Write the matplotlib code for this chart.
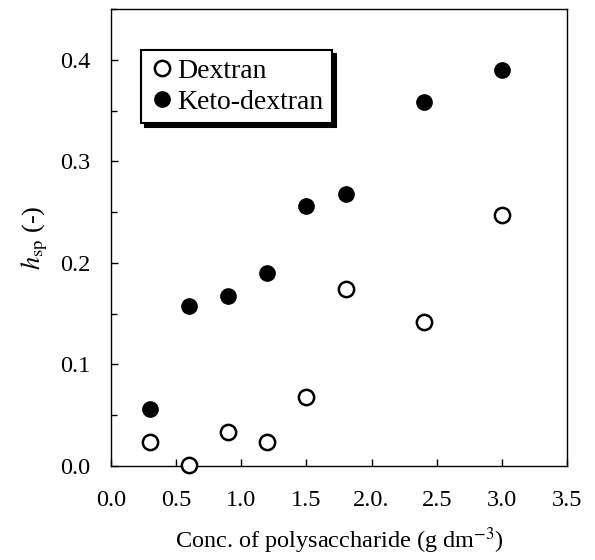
import matplotlib
matplotlib.use("Agg")
import matplotlib.pyplot as plt
from matplotlib.ticker import MultipleLocator

conc = [0.3, 0.6, 0.9, 1.2, 1.5, 1.8, 2.4, 3.0]
dextran = [0.024, 0.001, 0.033, 0.024, 0.068, 0.174, 0.142, 0.247]
keto_dextran = [0.056, 0.157, 0.167, 0.190, 0.256, 0.268, 0.358, 0.390]
xtick_vals = [0.0, 0.5, 1.0, 1.5, 2.0, 2.5, 3.0, 3.5]
xtick_labels = ["0.0", "0.5", "1.0", "1.5", "2.0.", "2.5", "3.0", "3.5"]
ytick_vals = [0.0, 0.1, 0.2, 0.3, 0.4]
ytick_labels = ["0.0", "0.1", "0.2", "0.3", "0.4"]

plt.rcParams['font.family'] = ['Liberation Serif', 'DejaVu Serif']
plt.rcParams['mathtext.fontset'] = 'stix'

fig = plt.figure(figsize=(5.95, 5.6), dpi=100)
ax = fig.add_axes([0.1866, 0.168, 0.953 - 0.1866, 0.984 - 0.168])

ax.plot(conc, dextran, 'o', mfc='white', mec='black', mew=1.8, ms=11,
        label='Dextran', clip_on=False, zorder=3)
ax.plot(conc, keto_dextran, 'o', mfc='black', mec='black', ms=11,
        label='Keto-dextran', clip_on=False, zorder=3)

ax.set_xlim(0, 3.5)
ax.set_ylim(0, 0.45)
ax.set_xticks(xtick_vals)
ax.set_xticklabels(xtick_labels)
ax.set_yticks(ytick_vals)
ax.set_yticklabels(ytick_labels)
ax.yaxis.set_minor_locator(MultipleLocator(0.05))
ax.tick_params(which='both', direction='in', labelsize=17.5, width=1, top=False, right=False)
ax.tick_params(axis='y', which='major', length=5, pad=15)
ax.tick_params(axis='x', which='major', length=5, pad=17)
ax.tick_params(which='minor', length=4)
for s in ax.spines.values():
    s.set_linewidth(1.0)

ax.set_xlabel(r'Conc. of polysaccharide (g dm$^{-3}$)', fontsize=17.5, labelpad=11)
ax.set_ylabel(r'$h_{\rm sp}$ (-)', fontsize=19, labelpad=7)

leg = ax.legend(loc='upper left', bbox_to_anchor=(0.066, 0.91), borderaxespad=0,
                fontsize=20, frameon=True, fancybox=False, edgecolor='black',
                shadow={'color': 'black', 'alpha': 1.0, 'ox': 3, 'oy': -3},
                handletextpad=0.1, handlelength=0.9, borderpad=0.3,
                labelspacing=0.2)
leg.get_frame().set_linewidth(1.5)

fig.savefig('out.png', dpi=100)
